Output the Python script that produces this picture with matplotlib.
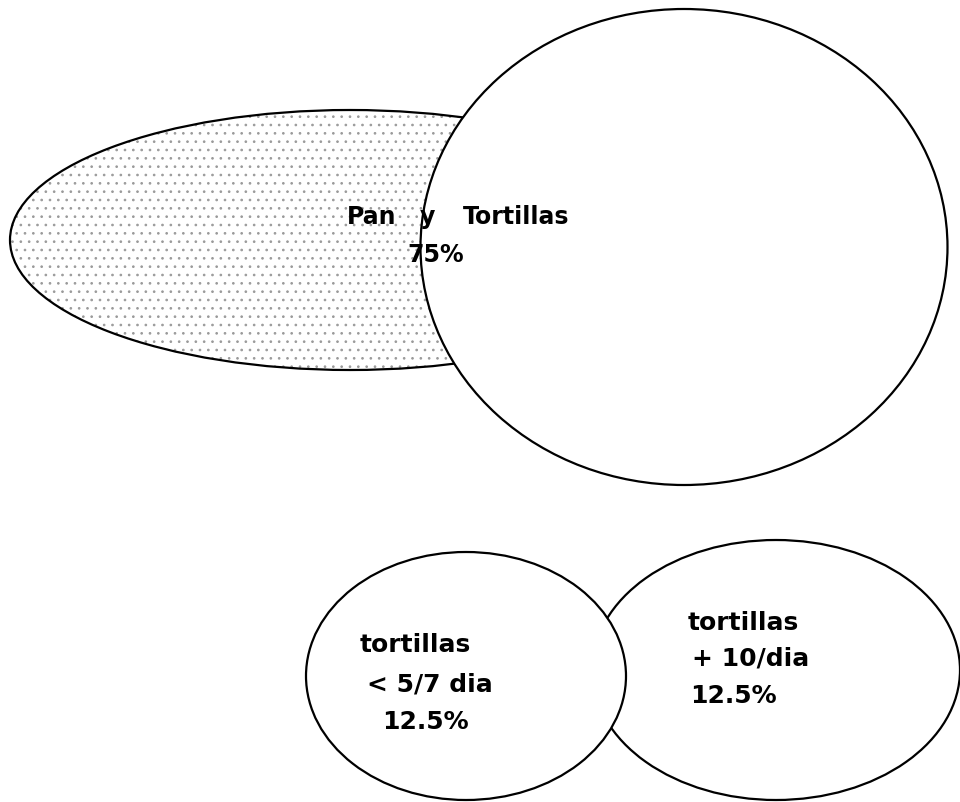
import matplotlib.pyplot as plt
from matplotlib.patches import Ellipse

# ellipses in pixel units: center x, center y, width, height
pan_shape = [350, 240, 680, 260]
tort_big = [684, 247, 527, 476]
low_left = [466, 676, 320, 248]
low_right = [776, 670, 368, 260]

# labels: text, x, y, alignment
labels_top = [("Pan", 347, 217, 'left'), ("y", 420, 217, 'left'),
              ("Tortillas", 463, 217, 'left'), ("75%", 436, 255, 'center')]
labels_left = [("tortillas", 360, 645, 'left'), ("< 5/7 dia", 367, 684, 'left'),
               ("12.5%", 382, 722, 'left')]
labels_right = [("tortillas", 688, 623, 'left'), ("+ 10/dia", 692, 659, 'left'),
                ("12.5%", 690, 696, 'left')]

plt.rcParams['hatch.linewidth'] = 0.7

fig = plt.figure(figsize=(9.6, 8.02), dpi=100)
ax = fig.add_axes([0, 0, 1, 1])
ax.set_xlim(0, 960)
ax.set_ylim(802, 0)
ax.axis('off')

def elipse(e, z, hatch=None):
    if hatch:
        ax.add_patch(Ellipse((e[0], e[1]), e[2], e[3], facecolor='white',
                             edgecolor='#9a9a9a', hatch=hatch, lw=0, zorder=z))
        ax.add_patch(Ellipse((e[0], e[1]), e[2], e[3], fill=False,
                             edgecolor='black', lw=1.6, zorder=z))
    else:
        ax.add_patch(Ellipse((e[0], e[1]), e[2], e[3], facecolor='white',
                             edgecolor='black', lw=1.6, zorder=z))

elipse(pan_shape, 1, hatch='..')
elipse(tort_big, 2)
elipse(low_right, 1)
elipse(low_left, 2)

for t, x, y, a in labels_top:
    ax.text(x, y, t, fontsize=17, fontweight='bold', ha=a, va='center', zorder=5)
for t, x, y, a in labels_left + labels_right:
    ax.text(x, y, t, fontsize=18, fontweight='bold', ha=a, va='center', zorder=5)

fig.savefig('out.png', dpi=100)
